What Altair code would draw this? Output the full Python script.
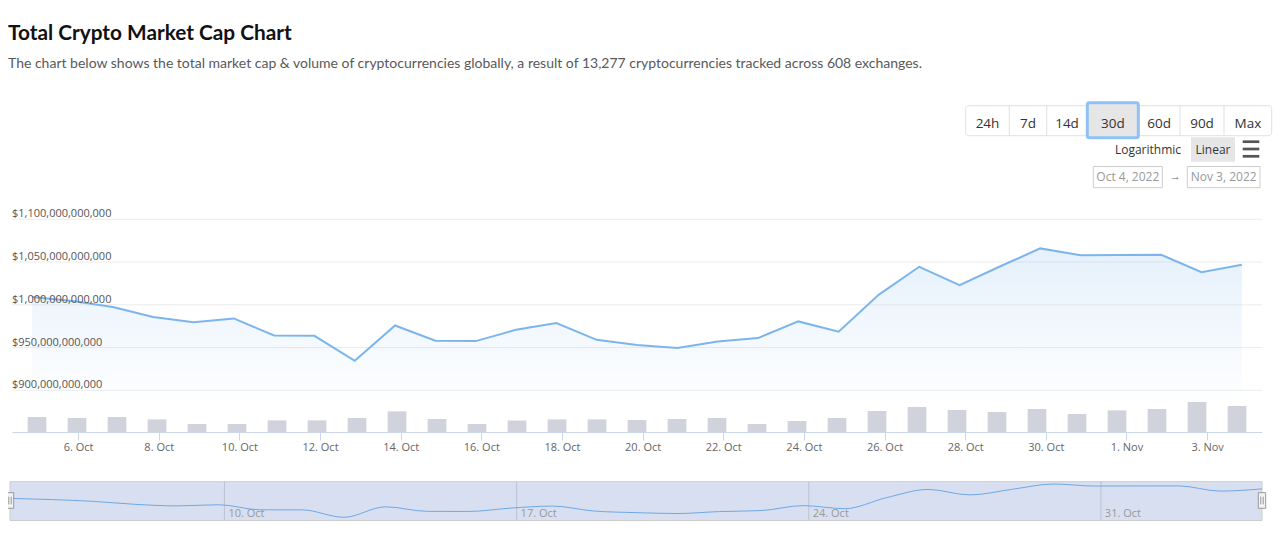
import altair as alt
import pandas as pd

# ---------------- data ----------------
dates = pd.date_range("2022-10-04 20:40", periods=31, freq="D").strftime("%Y-%m-%dT%H:%M:%S").tolist()

market_cap_b = [1009.2, 1004.5, 997.4, 985.7, 979.4, 984.0, 964.0, 963.7, 934.4, 975.8,
                957.9, 957.5, 970.8, 978.7, 959.0, 952.8, 949.3, 957.0, 961.0, 980.5,
                968.4, 1011.9, 1044.4, 1023.0, 1044.7, 1065.9, 1058.0, 1058.3, 1058.5, 1038.0,
                1046.7]

volume_b = [75, 70, 75, 63, 40, 40, 58, 58, 70, 103,
            65, 40, 58, 63, 63, 60, 65, 70, 40, 55,
            70, 105, 125, 110, 100, 115, 90, 108, 115, 150,
            130]

y_ticks_b = [900, 950, 1000, 1050, 1100]
x_tick_days = [(10, 6), (10, 8), (10, 10), (10, 12), (10, 14), (10, 16), (10, 18), (10, 20),
               (10, 22), (10, 24), (10, 26), (10, 28), (10, 30), (11, 1), (11, 3)]
nav_week_dates = ["2022-10-10T00:00:00", "2022-10-17T00:00:00",
                  "2022-10-24T00:00:00", "2022-10-31T00:00:00"]

title_text = "Total Crypto Market Cap Chart"
subtitle_text = ("The chart below shows the total market cap & volume of cryptocurrencies globally, "
                 "a result of 13,277 cryptocurrencies tracked across 608 exchanges.")
range_buttons = ["24h", "7d", "14d", "30d", "60d", "90d", "Max"]
scale_buttons = ["Logarithmic", "Linear"]
date_from, date_to = "Oct 4, 2022", "Nov 3, 2022"

df = pd.DataFrame({
    "date": dates,
    "cap": [v * 1e9 for v in market_cap_b],
    "vol": [v * 1e9 for v in volume_b],
})
ticks_df = pd.DataFrame({"v": [v * 1e9 for v in y_ticks_b]})
weeks_df = pd.DataFrame({"d": nav_week_dates})

FONT = "Open Sans"
ONE = alt.Data(values=[{"a": 0}])


def DT(m, d, h=0, mi=0):
    return alt.DateTime(year=2022, month=m, date=d, hours=h, minutes=mi)


# ---------------- scales ----------------
xs = alt.Scale(domain=[DT(10, 4, 8, 40), DT(11, 4, 8, 40)], range=[4, 1254], nice=False)
ys = alt.Scale(domain=[850e9, 1100e9], range=[425, 211.25], nice=False, zero=False)
vs = alt.Scale(domain=[0, 150e9], range=[424, 394], nice=False)
nxs = alt.Scale(domain=[DT(10, 4, 20, 40), DT(11, 3, 20, 40)], range=[2, 1254], nice=False)
nys = alt.Scale(domain=[930e9, 1070e9], range=[510.4, 475], nice=False, zero=False)

x_axis = alt.Axis(
    values=[DT(m, d) for m, d in x_tick_days], format="%-d. %b", title=None, grid=False,
    labelFont=FONT, labelFontSize=11, labelColor="#666666", labelPadding=1,
    tickColor="#ccd6eb", tickSize=8, domainColor="#ccd6eb", labelFlush=False,
    labelOverlap=False,
)

# ---------------- helpers for decorations ----------------
def text(s, x, y, size, color, align="center", baseline="middle", weight="normal", font=FONT):
    return alt.Chart(ONE).mark_text(
        text=s, align=align, baseline=baseline, fontSize=size, fontWeight=weight,
        font=font, color=color,
    ).encode(x=alt.value(x), y=alt.value(y))


def box(x1, x2, y1, y2, fill, stroke=None, sw=1, r=0):
    kw = dict(fill=fill, cornerRadius=r, strokeWidth=sw)
    if stroke is not None:
        kw["stroke"] = stroke
    return alt.Chart(ONE).mark_rect(**kw).encode(
        x=alt.value(x1), x2=alt.value(x2), y=alt.value(y1), y2=alt.value(y2))


def hline(x1, x2, y, color, sw=1):
    return alt.Chart(ONE).mark_rule(color=color, strokeWidth=sw).encode(
        x=alt.value(x1), x2=alt.value(x2), y=alt.value(y))


def vline(x, y1, y2, color, sw=1):
    return alt.Chart(ONE).mark_rule(color=color, strokeWidth=sw).encode(
        x=alt.value(x), y=alt.value(y1), y2=alt.value(y2))


# ---------------- main chart ----------------
grid = alt.Chart(ticks_df).mark_rule(color="#ececec", strokeWidth=1).encode(
    x=alt.value(4), x2=alt.value(1254), y=alt.Y("v:Q", scale=ys, axis=None))

area = alt.Chart(df).mark_area(
    color=alt.Gradient(
        gradient="linear", x1=0, x2=0, y1=0, y2=1,
        stops=[alt.GradientStop(color="rgba(124,181,236,0.20)", offset=0),
               alt.GradientStop(color="rgba(124,181,236,0.0)", offset=0.85)],
    )
).encode(
    x=alt.X("date:T", scale=xs, axis=None),
    y=alt.Y("cap:Q", scale=ys, axis=None),
    y2=alt.datum(850e9),
)

bars = alt.Chart(df).mark_bar(color="#d0d3db", size=18.7).encode(
    x=alt.X("date:T", scale=xs, axis=None),
    y=alt.Y("vol:Q", scale=vs, axis=None),
)

line = alt.Chart(df).mark_line(color="#7cb5ec", strokeWidth=2).encode(
    x=alt.X("date:T", scale=xs, axis=x_axis),
    y=alt.Y("cap:Q", scale=ys, axis=None),
)

ylabels = alt.Chart(ticks_df).mark_text(
    align="left", baseline="alphabetic", dy=-2, font=FONT, fontSize=11, color="#555555"
).encode(
    x=alt.value(4),
    y=alt.Y("v:Q", scale=ys, axis=None),
    text=alt.Text("v:Q", format="$,.0f"),
)

# ---------------- navigator ----------------
nav_box = box(2, 1254, 473.7, 512.5, fill="#d8dff0", stroke="#cccccc")
nav_rules = alt.Chart(weeks_df).mark_rule(color="#bcc3d3").encode(
    x=alt.X("d:T", scale=nxs, axis=None), y=alt.value(473.7), y2=alt.value(512.5))
nav_labels = alt.Chart(weeks_df).mark_text(
    align="left", baseline="alphabetic", dx=4, font=FONT, fontSize=11, color="#999999"
).encode(
    x=alt.X("d:T", scale=nxs, axis=None), y=alt.value(508.7),
    text=alt.Text("d:T", format="%-d. %b"),
)
nav_line = alt.Chart(df).mark_line(color="#6fa8e6", strokeWidth=1, interpolate="monotone").encode(
    x=alt.X("date:T", scale=nxs, axis=None),
    y=alt.Y("cap:Q", scale=nys, axis=None),
)

handles = []
for edge in (2, 1254):
    handles.append(box(edge - 3.7, edge + 3.7, 484.7, 500.3, fill="#f2f2f2", stroke="#999999"))
    handles.append(vline(edge - 1.2, 488.7, 496.3, "#999999"))
    handles.append(vline(edge + 1.2, 488.7, 496.3, "#999999"))

# ---------------- header ----------------
header = [
    text(title_text, 0, 31.5, 20.8, "#111111", align="left", baseline="alphabetic", weight="bold", font="Lato"),
    text(subtitle_text, 0, 59.5, 14, "#58595b", align="left", baseline="alphabetic", font="Lato"),
]

# range selector group
btn_edges = [957.7, 1001.3, 1038.7, 1079.3, 1130.3, 1172.0, 1216.0, 1263.7]
header.append(box(957.7, 1263.7, 97.7, 127.7, fill="#ffffff", stroke="#e0e0e0", r=3))
for xe in btn_edges[1:-1]:
    header.append(vline(xe, 97.7, 127.7, "#e0e0e0"))
header.append(box(1079.3, 1130.3, 94.8, 129.8, fill="#e6e6e6", stroke="#8ec2f5", sw=3, r=2))
for i, lab in enumerate(range_buttons):
    cx = (btn_edges[i] + btn_edges[i + 1]) / 2
    header.append(text(lab, cx, 115.5, 13.5, "#333333"))

# scale toggle
header.append(text(scale_buttons[0], 1140, 141.5, 12, "#333333"))
header.append(box(1183, 1227, 129.3, 153.7, fill="#e6e6e6"))
header.append(text(scale_buttons[1], 1205, 141.5, 12, "#333333"))
for yy in (133.7, 141.0, 148.3):
    header.append(hline(1234.7, 1251.3, yy, "#555555", sw=2.7))

# date inputs
header.append(box(1085.3, 1154.3, 158.5, 179.7, fill="#ffffff", stroke="#cccccc"))
header.append(text(date_from, 1119.8, 169, 12, "#999999"))
header.append(text("\u2192", 1167.3, 169, 11, "#666666"))
header.append(box(1179.3, 1252, 158.5, 179.7, fill="#ffffff", stroke="#cccccc"))
header.append(text(date_to, 1215.7, 169, 12, "#999999"))

layers = [grid, area, bars, line, ylabels, nav_box, nav_rules, nav_line, nav_labels] + handles + header

chart = alt.layer(*layers).resolve_scale(x="independent", y="independent").properties(
    width=1265, height=424,
    autosize=alt.AutoSizeParams(type="none"),
    padding={"left": 0, "right": 0, "top": 0, "bottom": 89},
    background="#ffffff",
).configure_view(stroke=None)

chart.save("out.html", embed_options={"renderer": "svg", "actions": False})
